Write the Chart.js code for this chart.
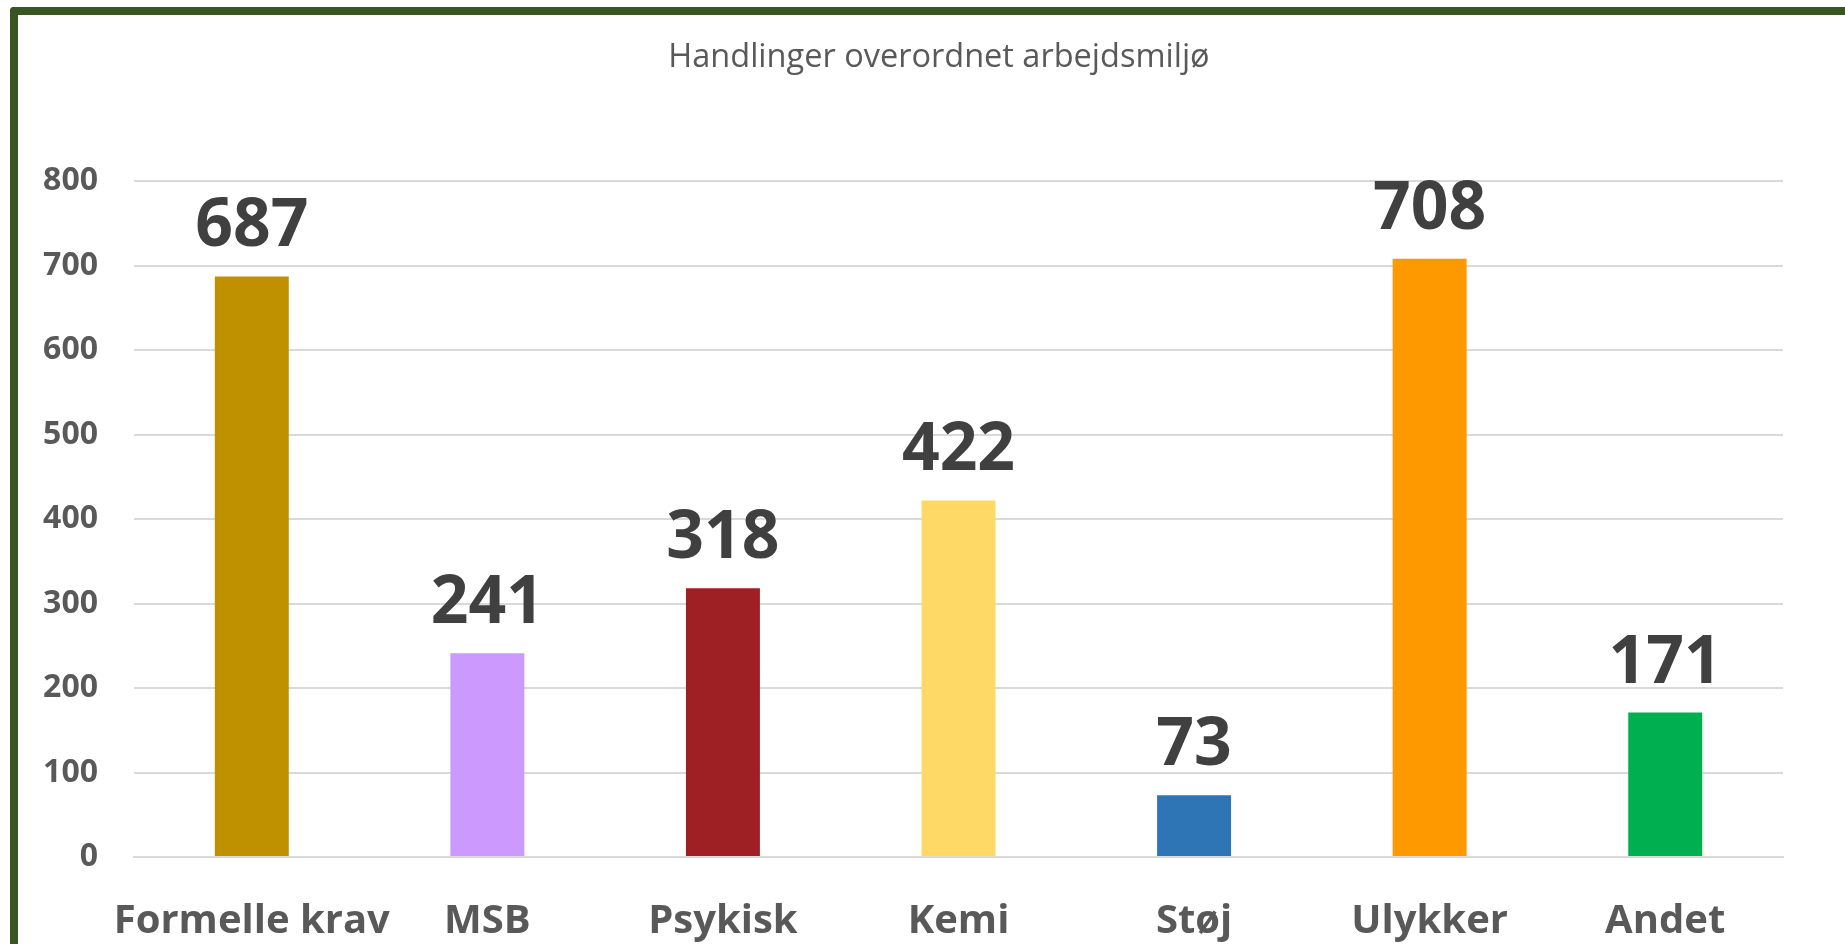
<!DOCTYPE html>
<html>
<head>
<meta charset="utf-8">
<script src="https://cdn.jsdelivr.net/npm/chart.js@4"></script>
<style>
  html, body { margin: 0; padding: 0; background: #ffffff; overflow: hidden; }
  #wrap { position: relative; width: 1845px; height: 944px; }
  #c { position: absolute; left: 0; top: 0; }
  #frame { position: absolute; left: 10px; top: 7px; width: 2000px; height: 1200px;
           border-left: 8px solid #375623; border-top: 8px solid #375623;
           border-top-left-radius: 4px; pointer-events: none; box-sizing: border-box; }
</style>
</head>
<body>
<div id="wrap">
  <canvas id="c" width="1845" height="944"></canvas>
  <div id="frame"></div>
</div>
<script>
const titleText = "Handlinger overordnet arbejdsmiljø";
const categories = ["Formelle krav", "MSB", "Psykisk", "Kemi", "Støj", "Ulykker", "Andet"];
const values = [687, 241, 318, 422, 73, 708, 171];
const barColors = ["#BF9000", "#CC99FF", "#9E1F24", "#FFD966", "#2E75B6", "#FF9900", "#00B050"];
const yTicks = [0, 100, 200, 300, 400, 500, 600, 700, 800];

const FONT = "'Open Sans', 'Noto Sans', sans-serif";

const valueLabels = {
  id: 'valueLabels',
  afterDatasetsDraw(chart) {
    const ctx = chart.ctx;
    const meta = chart.getDatasetMeta(0);
    ctx.save();
    ctx.font = "bold 66px " + FONT;
    ctx.fillStyle = "#404040";
    ctx.textAlign = "center";
    ctx.textBaseline = "alphabetic";
    meta.data.forEach((bar, i) => {
      ctx.fillText(String(values[i]), bar.x, bar.y - 30);
    });
    ctx.restore();
  }
};

const titlePlugin = {
  id: 'titlePlugin',
  afterDraw(chart) {
    const ctx = chart.ctx;
    ctx.save();
    ctx.font = "32.5px " + FONT;
    ctx.fillStyle = "#595959";
    ctx.textAlign = "center";
    ctx.textBaseline = "alphabetic";
    ctx.fillText(titleText, 939, 67);
    ctx.restore();
  }
};

const whiteBg = {
  id: 'whiteBg',
  beforeDraw(chart) {
    const ctx = chart.ctx;
    ctx.save();
    ctx.fillStyle = "#ffffff";
    ctx.fillRect(0, 0, chart.width, chart.height);
    ctx.restore();
  }
};

new Chart(document.getElementById('c'), {
  type: 'bar',
  data: {
    labels: categories,
    datasets: [{
      data: values,
      backgroundColor: barColors,
      borderWidth: 0,
      barPercentage: 0.314,
      categoryPercentage: 1.0
    }]
  },
  options: {
    responsive: false,
    animation: false,
    layout: { padding: { left: 0, right: 62, top: 181, bottom: 0 } },
    plugins: {
      legend: { display: false },
      tooltip: { enabled: false },
      title: { display: false }
    },
    scales: {
      x: {
        grid: { display: false, drawTicks: false },
        border: { display: true, color: "#D9D9D9", width: 2 },
        ticks: {
          color: "#595959",
          font: { family: FONT, size: 40, weight: 'bold' },
          padding: 41,
          maxRotation: 0,
          autoSkip: false
        },
        afterFit(scale) { scale.height = 87; }
      },
      y: {
        min: 0,
        max: 800,
        afterBuildTicks(scale) { scale.ticks = yTicks.map(v => ({ value: v })); },
        grid: { color: "#D9D9D9", lineWidth: 2, drawTicks: false },
        border: { display: false },
        ticks: {
          color: "#595959",
          font: { family: FONT, size: 32, weight: 'bold' },
          padding: 36
        },
        afterFit(scale) { scale.width = 134; }
      }
    }
  },
  plugins: [whiteBg, valueLabels, titlePlugin]
});
</script>
</body>
</html>
